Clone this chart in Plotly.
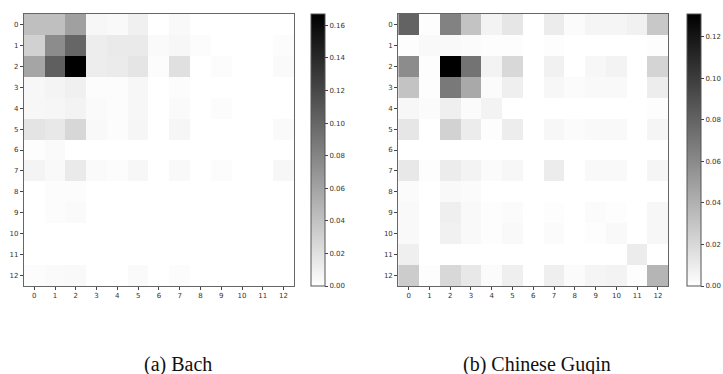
import plotly.graph_objects as go

labels = list(range(13))

bach = [
    [0.042, 0.042, 0.062, 0.005, 0.004, 0.010, 0.000, 0.004, 0.000, 0.000, 0.000, 0.000, 0.000],
    [0.030, 0.075, 0.100, 0.012, 0.014, 0.014, 0.003, 0.005, 0.002, 0.000, 0.000, 0.000, 0.002],
    [0.059, 0.105, 0.167, 0.012, 0.013, 0.017, 0.002, 0.020, 0.000, 0.002, 0.000, 0.000, 0.003],
    [0.005, 0.007, 0.010, 0.002, 0.002, 0.005, 0.000, 0.002, 0.000, 0.000, 0.000, 0.000, 0.000],
    [0.005, 0.006, 0.008, 0.003, 0.002, 0.005, 0.000, 0.003, 0.000, 0.002, 0.000, 0.000, 0.000],
    [0.018, 0.015, 0.026, 0.004, 0.002, 0.006, 0.000, 0.006, 0.000, 0.000, 0.000, 0.000, 0.003],
    [0.001, 0.003, 0.000, 0.000, 0.000, 0.000, 0.000, 0.000, 0.000, 0.000, 0.000, 0.000, 0.000],
    [0.007, 0.004, 0.014, 0.003, 0.002, 0.005, 0.000, 0.004, 0.000, 0.002, 0.000, 0.000, 0.005],
    [0.000, 0.002, 0.002, 0.000, 0.000, 0.000, 0.000, 0.000, 0.000, 0.000, 0.000, 0.000, 0.000],
    [0.000, 0.002, 0.003, 0.000, 0.000, 0.000, 0.000, 0.000, 0.000, 0.000, 0.000, 0.000, 0.000],
    [0.000, 0.000, 0.000, 0.000, 0.000, 0.000, 0.000, 0.000, 0.000, 0.000, 0.000, 0.000, 0.000],
    [0.000, 0.000, 0.000, 0.000, 0.000, 0.000, 0.000, 0.000, 0.000, 0.000, 0.000, 0.000, 0.000],
    [0.002, 0.003, 0.004, 0.000, 0.000, 0.003, 0.000, 0.002, 0.000, 0.000, 0.000, 0.000, 0.000],
]

guqin = [
    [0.080, 0.001, 0.064, 0.031, 0.006, 0.013, 0.000, 0.010, 0.002, 0.005, 0.005, 0.007, 0.028],
    [0.001, 0.003, 0.003, 0.002, 0.001, 0.001, 0.000, 0.001, 0.000, 0.000, 0.000, 0.000, 0.001],
    [0.059, 0.001, 0.131, 0.072, 0.006, 0.020, 0.000, 0.007, 0.000, 0.004, 0.006, 0.000, 0.022],
    [0.031, 0.001, 0.069, 0.044, 0.002, 0.008, 0.000, 0.004, 0.002, 0.003, 0.003, 0.000, 0.009],
    [0.004, 0.002, 0.008, 0.002, 0.006, 0.000, 0.000, 0.000, 0.000, 0.000, 0.000, 0.000, 0.001],
    [0.013, 0.000, 0.023, 0.010, 0.001, 0.009, 0.000, 0.004, 0.002, 0.003, 0.003, 0.000, 0.005],
    [0.000, 0.000, 0.000, 0.000, 0.000, 0.000, 0.000, 0.000, 0.000, 0.000, 0.000, 0.000, 0.000],
    [0.012, 0.001, 0.010, 0.006, 0.002, 0.004, 0.000, 0.010, 0.000, 0.003, 0.003, 0.000, 0.005],
    [0.002, 0.000, 0.003, 0.002, 0.000, 0.000, 0.000, 0.000, 0.000, 0.000, 0.000, 0.000, 0.000],
    [0.003, 0.000, 0.008, 0.003, 0.001, 0.002, 0.000, 0.001, 0.000, 0.002, 0.001, 0.000, 0.004],
    [0.003, 0.000, 0.007, 0.003, 0.001, 0.003, 0.000, 0.002, 0.000, 0.001, 0.003, 0.000, 0.004],
    [0.008, 0.000, 0.000, 0.000, 0.000, 0.000, 0.000, 0.000, 0.000, 0.000, 0.000, 0.010, 0.000],
    [0.026, 0.001, 0.020, 0.012, 0.002, 0.008, 0.000, 0.008, 0.002, 0.005, 0.006, 0.001, 0.038],
]

captions = ["(a) Bach", "(b) Chinese Guqin"]

gray_r = [[0.0, "#ffffff"], [1.0, "#000000"]]

W, H = 723, 374

def cb(xpx):
    return dict(
        x=xpx / W, xanchor="left", y=1 - 150 / H, yanchor="middle",
        len=272, lenmode="pixels", thickness=14, thicknessmode="pixels",
        outlinecolor="#555", outlinewidth=1,
        tickformat=".2f", dtick=0.02, tick0=0, ticks="outside", ticklen=3,
        tickcolor="#444", tickfont=dict(size=7, color="#333", family="DejaVu Sans"),
        xpad=0, ypad=0,
    )

fig = go.Figure()
fig.add_trace(go.Heatmap(z=bach, x=labels, y=labels, colorscale=gray_r,
                         zmin=0, zmax=max(max(r) for r in bach),
                         colorbar=cb(313), xaxis="x", yaxis="y"))
fig.add_trace(go.Heatmap(z=guqin, x=labels, y=labels, colorscale=gray_r,
                         zmin=0, zmax=max(max(r) for r in guqin),
                         colorbar=cb(692), xaxis="x2", yaxis="y2"))

axis_common = dict(
    tickmode="array", tickvals=labels, ticktext=[str(v) for v in labels],
    ticks="outside", ticklen=3, tickcolor="#444",
    tickfont=dict(size=7, color="#333", family="DejaVu Sans"),
    showline=True, mirror=True, linecolor="#666", linewidth=1,
    showgrid=False, zeroline=False, range=[-0.5, 12.5], automargin=False,
)

ydom = [1 - 286 / H, 1 - 14 / H]
cap_font = dict(family="Liberation Serif", size=20, color="#111")
fig.update_layout(
    template="none",
    width=W, height=H, autosize=False,
    margin=dict(l=0, r=0, t=0, b=0, pad=0),
    paper_bgcolor="white", plot_bgcolor="white",
    xaxis=dict(domain=[24 / W, 296 / W], anchor="y", **axis_common),
    yaxis=dict(domain=ydom, anchor="x", **{**axis_common, "range": [12.5, -0.5]}),
    xaxis2=dict(domain=[401 / W, 673 / W], anchor="y2", **axis_common),
    yaxis2=dict(domain=ydom, anchor="x2", **{**axis_common, "range": [12.5, -0.5]}),
    annotations=[
        dict(text=captions[0], x=179 / W, y=1 - 364 / H, xref="paper", yref="paper",
             xanchor="center", yanchor="middle", showarrow=False, font=cap_font),
        dict(text=captions[1], x=541 / W, y=1 - 364 / H, xref="paper", yref="paper",
             xanchor="center", yanchor="middle", showarrow=False, font=cap_font),
    ],
)

fig.write_html(
    "out.html",
    config={"displayModeBar": False},
    post_script="document.body.style.margin='0px';document.body.style.overflow='hidden';",
)
